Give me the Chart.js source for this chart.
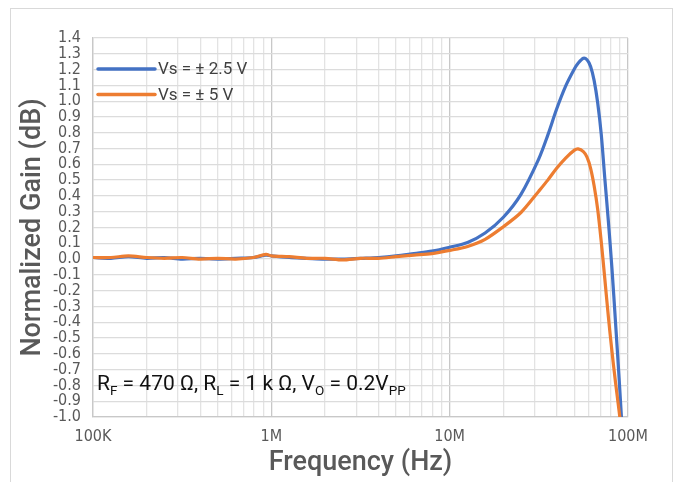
<!DOCTYPE html>
<html><head><meta charset="utf-8">
<script src="https://cdn.jsdelivr.net/npm/chart.js@4.4.1/dist/chart.umd.min.js"></script>
<style>
html,body{margin:0;padding:0;background:#fff;}
#wrap{position:relative;width:679px;height:482px;overflow:hidden;}
#frame{position:absolute;left:10px;top:8px;width:663px;height:490px;border:1px solid #d9d9d9;box-sizing:border-box;}
canvas{position:absolute;left:0;top:0;}
</style></head><body>
<div id="wrap"><div id="frame"></div><canvas id="c" width="679" height="482"></canvas></div>
<script>
// Frequency points (MHz)
const freqMHz = [0.1,0.126,0.158,0.2,0.251,0.316,0.398,0.501,0.631,0.794,0.933,1.0,1.26,1.58,2.0,2.51,3.16,3.98,5.01,6.31,7.94,10,12.6,15.8,20,25.1,31.6,35.5,39.8,44.7,50.1,52.5,56.2,58.9,61.7,64.6,67.6,70.8,74.1,77.6,81.3,85.1,89.1,93.3];
// Normalized gain (dB), Vs = ±2.5 V
const gainBlue = [0.01,0.005,0.015,0.005,0.01,0.0,0.005,0.0,0.005,0.01,0.025,0.02,0.01,0.005,0.0,0.0,0.005,0.01,0.02,0.035,0.05,0.075,0.105,0.165,0.265,0.41,0.635,0.785,0.95,1.095,1.205,1.24,1.272,1.262,1.22,1.13,0.99,0.79,0.513,0.24,-0.06,-0.4,-0.75,-1.13];
// Normalized gain (dB), Vs = ±5 V
const gainOrange = [0.01,0.01,0.02,0.01,0.005,0.01,0.0,0.005,0.0,0.01,0.03,0.02,0.015,0.005,0.005,-0.005,0.005,0.005,0.015,0.025,0.035,0.055,0.08,0.125,0.205,0.295,0.43,0.5,0.575,0.64,0.69,0.698,0.68,0.645,0.575,0.463,0.316,0.11,-0.123,-0.365,-0.585,-0.78,-0.96,-1.15];
const seriesNames = ['Vs = \u00B1 2.5 V', 'Vs = \u00B1 5 V'];
const seriesColors = ['#4472C4', '#ED7D31'];
const xTickValues = [1e5, 1e6, 1e7, 1e8];
const xTickLabels = ['100K', '1M', '10M', '100M'];
const xGridValues = [1e5,2e5,3e5,4e5,5e5,6e5,7e5,8e5,9e5,1e6,2e6,3e6,4e6,5e6,6e6,7e6,8e6,9e6,1e7,2e7,3e7,4e7,5e7,6e7,7e7,8e7,9e7,1e8];
const yMin = -1.0, yMax = 1.4, yStep = 0.1;
const xTitle = 'Frequency (Hz)';
const yTitle = 'Normalized Gain (dB)';
const noteParts = [['R','n'],['F','s'],[' = 470 \u03A9, R','n'],['L','s'],[' = 1 k \u03A9, V','n'],['O','s'],[' = 0.2V','n'],['PP','s']];

const narrow = "'Liberation Sans Narrow','DejaVu Sans Condensed','Roboto Condensed',Roboto,sans-serif";

const overlay = {
  id: 'overlay',
  afterDraw(chart) {
    const {ctx, chartArea: a} = chart;
    ctx.save();
    const ly = [a.top + 31, a.top + 56.5];
    seriesNames.forEach((name, i) => {
      ctx.strokeStyle = seriesColors[i];
      ctx.lineWidth = 3.5;
      ctx.lineCap = 'round';
      ctx.beginPath();
      ctx.moveTo(a.left + 5, ly[i]);
      ctx.lineTo(a.left + 62, ly[i]);
      ctx.stroke();
      ctx.fillStyle = '#404040';
      ctx.font = "17px Roboto, sans-serif";
      ctx.textBaseline = 'middle';
      ctx.textAlign = 'left';
      ctx.fillText(name, a.left + 65, ly[i] + 1);
    });
    let x = a.left + 4;
    const base = a.bottom - 27;
    ctx.fillStyle = '#111';
    ctx.textBaseline = 'alphabetic';
    noteParts.forEach(([t, k]) => {
      if (k === 'n') { ctx.font = "21px Roboto, sans-serif"; ctx.fillText(t, x, base); }
      else { ctx.font = "13.5px Roboto, sans-serif"; ctx.fillText(t, x, base + 5); }
      x += ctx.measureText(t).width;
    });
    ctx.restore();
  }
};

new Chart(document.getElementById('c'), {
  type: 'line',
  data: {
    datasets: [
      { label: seriesNames[0], data: freqMHz.map((f, i) => ({x: f * 1e6, y: gainBlue[i]})),
        borderColor: seriesColors[0], borderWidth: 3.2, pointRadius: 0, tension: 0.3, order: 1 },
      { label: seriesNames[1], data: freqMHz.map((f, i) => ({x: f * 1e6, y: gainOrange[i]})),
        borderColor: seriesColors[1], borderWidth: 3.2, pointRadius: 0, tension: 0.3, order: 0 }
    ]
  },
  options: {
    responsive: false,
    animation: false,
    devicePixelRatio: 1,
    layout: { padding: { left: 8, top: 38, right: 51, bottom: 0 } },
    plugins: { legend: { display: false }, tooltip: { enabled: false } },
    scales: {
      x: {
        type: 'logarithmic', min: 1e5, max: 1e8,
        afterBuildTicks: s => { s.ticks = xGridValues.map(v => ({value: v})); },
        afterFit: s => { s.height = 65; },
        ticks: {
          autoSkip: false, maxRotation: 0, padding: 10, color: '#595959',
          font: { family: narrow, size: 16 },
          callback: v => { const i = xTickValues.indexOf(v); return i >= 0 ? xTickLabels[i] : ''; }
        },
        grid: {
          drawTicks: false, lineWidth: 1.3,
          color: c => (c.tick && xTickValues.indexOf(c.tick.value) >= 0) ? '#c8c8c8' : '#e3e3e3'
        },
        border: { color: '#c8c8c8', width: 1.3 },
        title: { display: true, text: xTitle, color: '#595959', font: { family: 'Roboto, sans-serif', size: 27, weight: '500' }, padding: { top: 0, bottom: 3 } }
      },
      y: {
        min: yMin, max: yMax,
        afterFit: s => { s.width = 85; },
        ticks: {
          stepSize: yStep, autoSkip: false, maxTicksLimit: 40, padding: 12, color: '#595959',
          font: { family: narrow, size: 16 },
          callback: v => (Math.abs(v) < 1e-9 ? 0 : v).toFixed(1)
        },
        grid: { drawTicks: false, lineWidth: 1.3, color: '#dcdcdc' },
        border: { color: '#c8c8c8', width: 1.3 },
        title: { display: true, text: yTitle, color: '#595959', font: { family: 'Roboto, sans-serif', size: 27, weight: '500' }, padding: { top: 9, bottom: 0 } }
      }
    }
  },
  plugins: [overlay]
});
</script>
</body></html>
